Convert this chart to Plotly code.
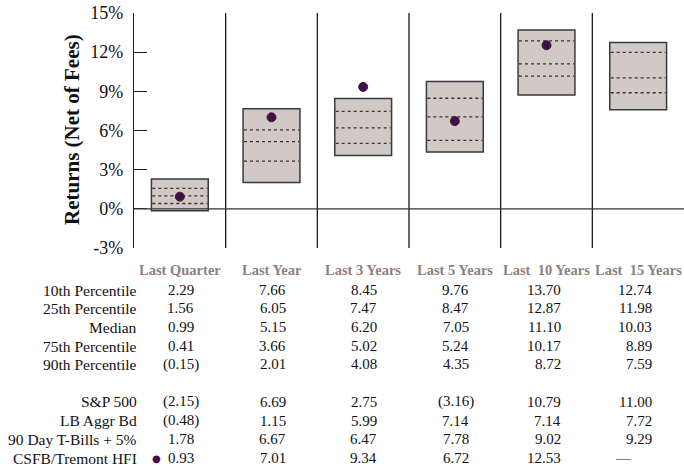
import plotly.graph_objects as go

periods = ["Last Quarter", "Last Year", "Last 3 Years", "Last 5 Years", "Last  10 Years", "Last  15 Years"]
p10 = [2.29, 7.66, 8.45, 9.76, 13.70, 12.74]
p25 = [1.56, 6.05, 7.47, 8.47, 12.87, 11.98]
median = [0.99, 5.15, 6.20, 7.05, 11.10, 10.03]
p75 = [0.41, 3.66, 5.02, 5.24, 10.17, 8.89]
p90 = [-0.15, 2.01, 4.08, 4.35, 8.72, 7.59]
sp500 = [-2.15, 6.69, 2.75, -3.16, 10.79, 11.00]
lb_aggr = [-0.48, 1.15, 5.99, 7.14, 7.14, 7.72]
tbills = [1.78, 6.67, 6.47, 7.78, 9.02, 9.29]
csfb = [0.93, 7.01, 9.34, 6.72, 12.53, None]

row_labels = ["10th Percentile", "25th Percentile", "Median", "75th Percentile", "90th Percentile",
              "S&P 500", "LB Aggr Bd", "90 Day T-Bills + 5%", "CSFB/Tremont HFI"]
row_values = [p10, p25, median, p75, p90, sp500, lb_aggr, tbills, csfb]
row_pix = [290, 308, 327, 346, 364, 402, 421, 439, 458]
y_ticks = [-3, 0, 3, 6, 9, 12, 15]

FONT = "Liberation Serif, Times New Roman, serif"
BOX_FILL = "#d0c9c6"
BOX_LINE = "#3a3a3a"
DOT = "#4a0a4c"
HEAD = "#8f807c"

W, H = 684, 468
TOP, BOT_PIX = 13, 248
LEFT = 134
plot_h = BOT_PIX - TOP

xc = [i + 0.5 for i in range(len(periods))]
box_w = 0.62

fig = go.Figure()

fig.add_trace(go.Bar(
    x=xc, y=[a - b for a, b in zip(p10, p90)], base=p90, width=box_w,
    marker=dict(color=BOX_FILL, line=dict(color=BOX_LINE, width=1.5)),
    hoverinfo="skip", showlegend=False))

for series in (p25, median, p75):
    xs, ys = [], []
    for x, v in zip(xc, series):
        xs += [x - box_w / 2 + 0.01, x + box_w / 2 - 0.01, None]
        ys += [v, v, None]
    fig.add_trace(go.Scatter(x=xs, y=ys, mode="lines",
                             line=dict(color="#333333", width=1.3, dash="3px,3px"),
                             hoverinfo="skip", showlegend=False))

fig.add_trace(go.Scatter(
    x=[x for x, v in zip(xc, csfb) if v is not None],
    y=[v for v in csfb if v is not None], mode="markers",
    marker=dict(color=DOT, size=9, line=dict(color="#2a2a2a", width=1)),
    hoverinfo="skip", showlegend=False))

shapes = []
for i in range(1, len(periods)):
    shapes.append(dict(type="line", xref="x", yref="y", x0=i, x1=i, y0=-3, y1=15,
                       line=dict(color="#1a1a1a", width=1.3)))
shapes.append(dict(type="line", xref="x", yref="y", x0=0, x1=6, y0=0, y1=0,
                   line=dict(color="#333333", width=1.3)))

def py(pix):
    return (BOT_PIX - pix) / plot_h

def px(pix):
    return (pix - LEFT) / (W - LEFT)

annotations = []
for x, name in zip(xc, periods):
    annotations.append(dict(x=x, y=py(270), xref="x", yref="paper", text=name,
                            showarrow=False, xanchor="center", yanchor="middle",
                            font=dict(family=FONT, size=14.5, color=HEAD, weight="bold")))

def fmt(v):
    if v is None:
        return "—"
    if v < 0:
        return "(%.2f)" % abs(v)
    return "%.2f" % v

for lab, vals, pix in zip(row_labels, row_values, row_pix):
    annotations.append(dict(x=px(139), y=py(pix), xref="paper", yref="paper", text=lab,
                            showarrow=False, xanchor="right", yanchor="middle",
                            font=dict(family=FONT, size=15.5, color="#111111")))
    for x, v in zip(xc, vals):
        shift = 16
        if v is not None and v < 0:
            shift += 5
        if v is None:
            shift = -4
        annotations.append(dict(x=x, y=py(pix), xref="x", yref="paper", text=fmt(v),
                                showarrow=False, xanchor="right", yanchor="middle",
                                xshift=shift,
                                font=dict(family=FONT, size=15, color="#111111")))

annotations.append(dict(x=0.5, y=py(458), xref="x", yref="paper", text="●",
                        showarrow=False, xanchor="center", yanchor="middle", xshift=-23,
                        font=dict(family="DejaVu Sans", size=10, color=DOT)))

# y-axis title
annotations.append(dict(x=px(72), y=py(130), xref="paper", yref="paper",
                        text="Returns (Net of Fees)", textangle=-90, showarrow=False,
                        xanchor="center", yanchor="middle",
                        font=dict(family=FONT, size=21, color="#111111", weight="bold")))

fig.update_layout(
    width=W, height=H,
    margin=dict(l=LEFT, r=0, t=TOP, b=H - BOT_PIX, pad=0, autoexpand=False),
    paper_bgcolor="white", plot_bgcolor="white",
    showlegend=False,
    xaxis=dict(range=[0, 6], showticklabels=False, showgrid=False, zeroline=False,
               showline=False, ticks="", fixedrange=True, automargin=False),
    yaxis=dict(range=[-3, 15], tickvals=y_ticks, ticktext=["%d%%" % t for t in y_ticks],
               ticks="inside", ticklen=13, tickwidth=1.3, tickcolor="#1a1a1a",
               showline=True, linecolor="#1a1a1a", linewidth=1.3,
               showgrid=False, zeroline=False, automargin=False,
               ticklabelstandoff=6,
               tickfont=dict(family=FONT, size=18, color="#111111"),
               fixedrange=True),
    shapes=shapes, annotations=annotations,
)

fig.write_html("out.html", config={"displayModeBar": False},
               post_script="document.body.style.margin='0';")
